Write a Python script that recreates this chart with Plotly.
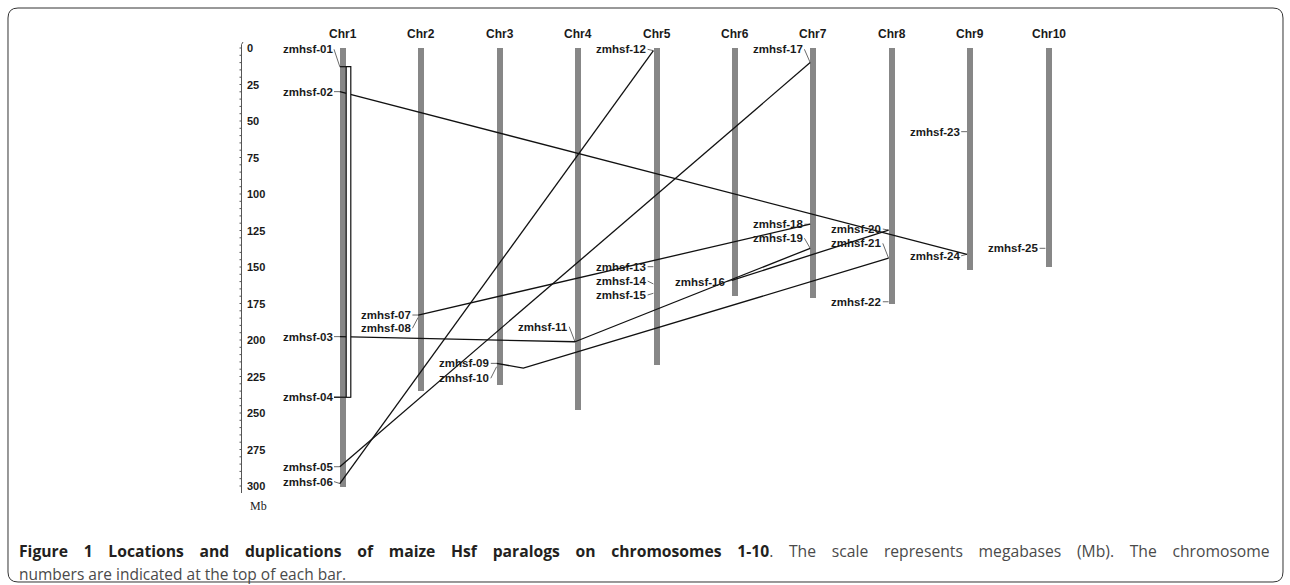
import plotly.graph_objects as go

# ---------------- data ----------------
chromosomes = ["Chr1", "Chr2", "Chr3", "Chr4", "Chr5", "Chr6", "Chr7", "Chr8", "Chr9", "Chr10"]
chrom_index = [1, 2, 3, 4, 5, 6, 7, 8, 9, 10]
chrom_lengths = [301, 235, 231, 248, 217, 170, 171, 175, 152, 150]  # Mb

genes = ["zmhsf-01", "zmhsf-02", "zmhsf-03", "zmhsf-04", "zmhsf-05", "zmhsf-06",
         "zmhsf-07", "zmhsf-08", "zmhsf-09", "zmhsf-10", "zmhsf-11", "zmhsf-12",
         "zmhsf-13", "zmhsf-14", "zmhsf-15", "zmhsf-16", "zmhsf-17", "zmhsf-18",
         "zmhsf-19", "zmhsf-20", "zmhsf-21", "zmhsf-22", "zmhsf-23", "zmhsf-24",
         "zmhsf-25"]
gene_chrom = [1, 1, 1, 1, 1, 1, 2, 2, 3, 3, 4, 5, 5, 5, 5, 6, 7, 7, 7, 8, 8, 8, 9, 9, 10]
gene_pos = [12.8, 29.9, 197.7, 239.2, 286.8, 298.3, 182.9, 184.5, 216.0, 218.3,
            201.2, 1.8, 149.8, 161.6, 168.0, 159.2, 10.0, 120.7, 137.2, 124.7,
            144.0, 173.8, 57.3, 141.3, 137.2]
label_pos = [0.9, 29.9, 197.7, 239.2, 286.8, 297.0, 182.9, 192.0, 216.0, 226.2,
             190.9, 0.9, 149.8, 159.6, 169.2, 160.0, 0.9, 120.7, 130.3, 124.0,
             133.8, 173.8, 57.3, 142.3, 137.2]

dup_pairs = [("zmhsf-02", "zmhsf-24"), ("zmhsf-03", "zmhsf-11"),
             ("zmhsf-05", "zmhsf-17"), ("zmhsf-06", "zmhsf-12"),
             ("zmhsf-07", "zmhsf-18"), ("zmhsf-09", "zmhsf-21"),
             ("zmhsf-11", "zmhsf-19"), ("zmhsf-16", "zmhsf-20")]
dup_bends = {("zmhsf-09", "zmhsf-21"): (3.3, 219.3)}   # (chromosome units, Mb)
bracket_pair = ("zmhsf-01", "zmhsf-04")

scale_ticks = [0, 25, 50, 75, 100, 125, 150, 175, 200, 225, 250, 275, 300]
scale_minor = list(range(0, 305, 5))

caption_bold = "Figure 1 Locations and duplications of maize Hsf paralogs on chromosomes 1-10"
caption_rest = ". The scale represents megabases (Mb). The chromosome"
caption_line2 = "numbers are indicated at the top of each bar."

# ---------------- geometry (style) ----------------
W, H = 1290, 585
DX = 78.4          # px per chromosome step
X_CHR1 = 343.0     # px of Chr1
PX_PER_MB = 1.46
Y_ZERO = 48.0      # px of 0 Mb

x_range = [1 - X_CHR1 / DX, 1 + (W - X_CHR1) / DX]
y_range = [(H - Y_ZERO) / PX_PER_MB, -Y_ZERO / PX_PER_MB]


def ox(px):   # px offset -> x data units
    return px / DX


def px_x(px):  # absolute px -> x data
    return 1 + (px - X_CHR1) / DX


def px_y(px):  # absolute px -> Mb
    return (px - Y_ZERO) / PX_PER_MB


BAR_W = 6
EDGE = 3.2
LABEL_GAP = 9.5
FONT = "Liberation Sans, Arial, sans-serif"
gi = {g: i for i, g in enumerate(genes)}

fig = go.Figure()

# chromosome bars
fig.add_trace(go.Bar(x=chrom_index, y=chrom_lengths, base=0, width=ox(BAR_W),
                     marker=dict(color="#878787", line=dict(width=0)),
                     hoverinfo="skip", showlegend=False))

# label connectors
cx, cy = [], []
for g, c, p, lp in zip(genes, gene_chrom, gene_pos, label_pos):
    cx += [c - ox(LABEL_GAP - 0.5), c - ox(EDGE), None]
    cy += [lp, p, None]
fig.add_trace(go.Scatter(x=cx, y=cy, mode="lines",
                         line=dict(color="#6a6a6a", width=1),
                         hoverinfo="skip", showlegend=False))

# duplication lines
dx_, dy_ = [], []
for a, b in dup_pairs:
    ia, ib = gi[a], gi[b]
    dx_.append(gene_chrom[ia] - ox(EDGE))
    dy_.append(gene_pos[ia])
    if (a, b) in dup_bends:
        bx, by = dup_bends[(a, b)]
        dx_.append(bx)
        dy_.append(by)
    dx_ += [gene_chrom[ib] - ox(EDGE), None]
    dy_ += [gene_pos[ib], None]
fig.add_trace(go.Scatter(x=dx_, y=dy_, mode="lines",
                         line=dict(color="#111111", width=1.3),
                         hoverinfo="skip", showlegend=False))

# bracket (segmental duplication on Chr1)
ia, ib = gi[bracket_pair[0]], gi[bracket_pair[1]]
c = gene_chrom[ia]
fig.add_shape(type="rect", xref="x", yref="y",
              x0=c + ox(EDGE), x1=c + ox(7.8),
              y0=gene_pos[ia], y1=gene_pos[ib],
              fillcolor="white", line=dict(color="#111111", width=1.2), layer="above")
fig.add_trace(go.Scatter(
    x=[c - ox(EDGE), c + ox(7.8), None, c - ox(LABEL_GAP - 0.5), c + ox(7.8)],
    y=[gene_pos[ia], gene_pos[ia], None, gene_pos[ib], gene_pos[ib]],
    mode="lines", line=dict(color="#111111", width=1.2),
    hoverinfo="skip", showlegend=False))

# scale bar
SCALE_X = px_x(241.5)
sx = [SCALE_X + ox(1.5), SCALE_X, SCALE_X, None]
sy = [px_y(42), px_y(44.5), px_y(493), None]
for m in scale_minor:
    sx += [SCALE_X - ox(2), SCALE_X, None]
    sy += [m, m, None]
fig.add_trace(go.Scatter(x=sx, y=sy, mode="lines",
                         line=dict(color="#555555", width=1),
                         hoverinfo="skip", showlegend=False))

annotations = []
for t in scale_ticks:
    annotations.append(dict(x=px_x(245), y=t, xref="x", yref="y", text=str(t),
                            showarrow=False, xanchor="left", yanchor="middle",
                            font=dict(family=FONT, size=11, color="#1a1a1a", weight="bold")))
annotations.append(dict(x=258 / W, y=1 - 506 / H, xref="paper", yref="paper", text="Mb",
                        showarrow=False, xanchor="center", yanchor="middle",
                        font=dict(family="Liberation Serif, Times New Roman, serif",
                                  size=12, color="#222222")))

# chromosome titles
for name, ci in zip(chromosomes, chrom_index):
    annotations.append(dict(x=ci, y=px_y(34), xref="x", yref="y", text=name,
                            showarrow=False, xanchor="center", yanchor="middle",
                            font=dict(family=FONT, size=12, color="#1a1a1a", weight="bold")))

# gene labels
for g, c, lp in zip(genes, gene_chrom, label_pos):
    annotations.append(dict(x=c - ox(LABEL_GAP), y=lp, xref="x", yref="y", text=g,
                            showarrow=False, xanchor="right", yanchor="middle",
                            borderpad=0,
                            font=dict(family=FONT, size=11.5, color="#1a1a1a", weight="bold")))

# caption (first line justified by widening the word gaps)
CAP_FONT = "Open Sans, sans-serif"
GAP = "\u2003"
line1 = ("<b>" + caption_bold.replace(" ", GAP) + "</b>"
         + "<span style='color:#4a4a4a'>" + caption_rest.replace(" ", GAP) + "</span>")
annotations.append(dict(x=18 / W, y=1 - 551 / H, xref="paper", yref="paper",
                        text=line1, showarrow=False, xanchor="left", yanchor="middle",
                        borderpad=0,
                        font=dict(family=CAP_FONT, size=15.7, color="#231f20")))
annotations.append(dict(x=18 / W, y=1 - 574 / H, xref="paper", yref="paper",
                        text=caption_line2, showarrow=False, xanchor="left", yanchor="middle",
                        borderpad=0,
                        font=dict(family=CAP_FONT, size=15.5, color="#4a4a4a")))

# frame with rounded corners (paper px)
L, R, T, B, r = 8, 1283, 8, 582, 10


def P(x, y):
    return f"{x / W:.5f},{1 - y / H:.5f}"


path = (f"M {P(L + r, T)} L {P(R - r, T)} Q {P(R, T)} {P(R, T + r)} "
        f"L {P(R, B - r)} Q {P(R, B)} {P(R - r, B)} L {P(L + r, B)} "
        f"Q {P(L, B)} {P(L, B - r)} L {P(L, T + r)} Q {P(L, T)} {P(L + r, T)} Z")
fig.add_shape(type="path", xref="paper", yref="paper", path=path,
              line=dict(color="#333333", width=1), layer="below")

fig.update_layout(
    width=W, height=H, margin=dict(l=0, r=0, t=0, b=0),
    paper_bgcolor="white", plot_bgcolor="white",
    xaxis=dict(range=x_range, visible=False, fixedrange=True),
    yaxis=dict(range=y_range, visible=False, fixedrange=True),
    annotations=annotations, showlegend=False, bargap=0,
)

fig.write_html("out.html", config={"displayModeBar": False},
               post_script="document.body.style.margin='0';")
